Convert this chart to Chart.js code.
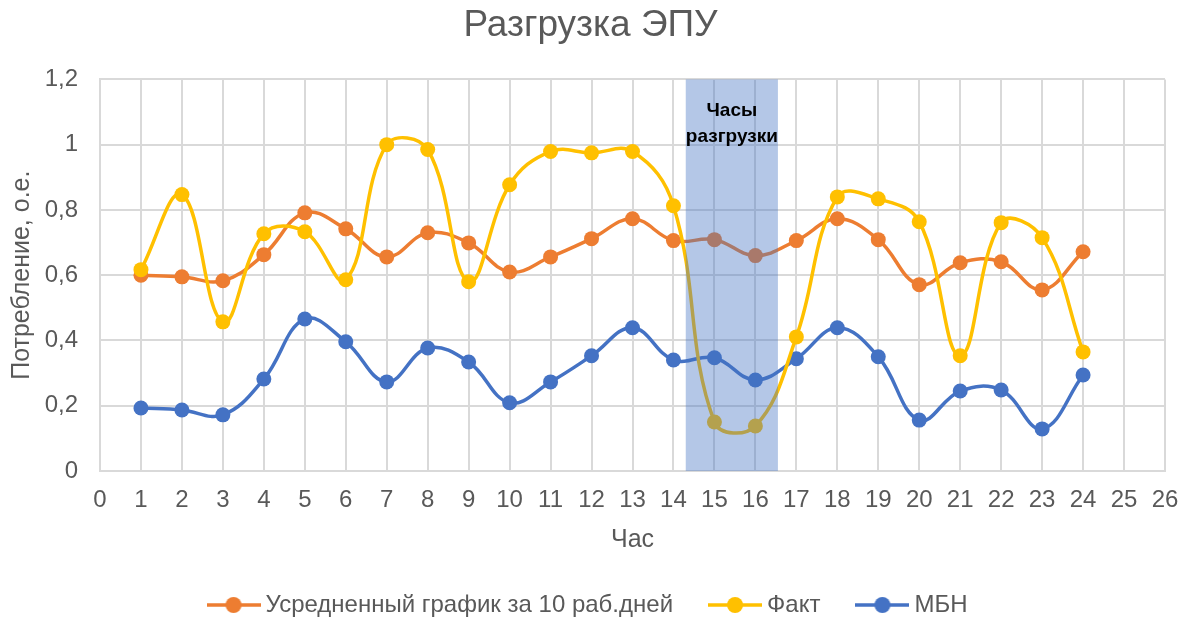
<!DOCTYPE html>
<html>
<head>
<meta charset="utf-8">
<script src="https://cdn.jsdelivr.net/npm/chart.js@4"></script>
<style>
  html, body { margin: 0; padding: 0; background: #fff; }
  #wrap { width: 1181px; height: 619px; }
</style>
</head>
<body>
<div id="wrap"><canvas id="chart"></canvas></div>
<script>
const hours = [1, 2, 3, 4, 5, 6, 7, 8, 9, 10, 11, 12, 13, 14, 15, 16, 17, 18, 19, 20, 21, 22, 23, 24];
const avgValues = [0.60, 0.595, 0.583, 0.663, 0.791, 0.742, 0.656, 0.730, 0.699, 0.610, 0.656, 0.712,
    0.773, 0.706, 0.709, 0.660, 0.706, 0.773, 0.709, 0.571, 0.638, 0.641, 0.555, 0.672];
const factValues = [0.617, 0.847, 0.457, 0.727, 0.733, 0.586, 1.0, 0.985, 0.580, 0.877, 0.979, 0.975,
    0.979, 0.813, 0.150, 0.138, 0.411, 0.840, 0.834, 0.764, 0.353, 0.761, 0.715, 0.365];
const mbnValues = [0.193, 0.187, 0.172, 0.282, 0.466, 0.396, 0.273, 0.377, 0.334, 0.209, 0.273, 0.353,
    0.439, 0.340, 0.347, 0.279, 0.344, 0.439, 0.350, 0.156, 0.245, 0.248, 0.129, 0.294];
const seriesNames = ['Усредненный график за 10 раб.дней', 'Факт', 'МБН'];
const peakStart = 14.3;
const peakEnd = 16.55;
const peakLabel = ['Часы', 'разгрузки'];

const grey = '#595959';
const font = 'Liberation Sans, Arial, sans-serif';

function pts(vals) {
    return hours.map((h, i) => ({ x: h, y: vals[i] }));
}

// marker for legend: line with a dot in the middle
function marker(color) {
    const c = document.createElement('canvas');
    c.width = 54; c.height = 18;
    const g = c.getContext('2d');
    g.strokeStyle = color; g.lineWidth = 3.5;
    g.beginPath(); g.moveTo(0, 9); g.lineTo(54, 9); g.stroke();
    g.fillStyle = color;
    g.beginPath(); g.arc(27, 9, 8, 0, Math.PI * 2); g.fill();
    return c;
}

function line(label, vals, color, order) {
    return {
        label: label,
        data: pts(vals),
        borderColor: color,
        backgroundColor: color,
        borderWidth: 3.5,
        pointRadius: 7.5,
        pointHoverRadius: 7.5,
        pointBorderWidth: 0,
        tension: 0.4,
        order: order
    };
}

// shaded "peak hours" band, drawn over the lines like in the original
const bandPlugin = {
    id: 'band',
    afterDatasetsDraw(chart) {
        const { ctx, chartArea, scales } = chart;
        const x1 = scales.x.getPixelForValue(peakStart);
        const x2 = scales.x.getPixelForValue(peakEnd);
        ctx.save();
        ctx.fillStyle = 'rgba(68,114,196,0.4)';
        ctx.fillRect(x1, chartArea.top, x2 - x1, chartArea.bottom - chartArea.top);
        ctx.fillStyle = '#000';
        ctx.font = 'bold 19px ' + font;
        ctx.textAlign = 'center';
        ctx.textBaseline = 'alphabetic';
        const cx = (x1 + x2) / 2;
        ctx.fillText(peakLabel[0], cx, chartArea.top + 37);
        ctx.fillText(peakLabel[1], cx, chartArea.top + 63);
        ctx.restore();
    }
};

new Chart(document.getElementById('chart'), {
    type: 'line',
    data: {
        datasets: [
            line(seriesNames[0], avgValues, '#ED7D31', 1),
            line(seriesNames[1], factValues, '#FFC000', 0),
            line(seriesNames[2], mbnValues, '#4472C4', 2)
        ]
    },
    plugins: [bandPlugin],
    options: {
        responsive: true,
        maintainAspectRatio: false,
        animation: false,
        layout: { padding: { left: 0, right: 0, top: 0, bottom: -8 } },
        plugins: {
            title: {
                display: true,
                text: 'Разгрузка ЭПУ',
                color: grey,
                font: { family: font, size: 37, weight: 'normal' },
                padding: { top: 4, bottom: 31 }
            },
            legend: {
                position: 'bottom',
                labels: {
                    color: grey,
                    font: { family: font, size: 24 },
                    usePointStyle: true,
                    pointStyleWidth: 40,
                    padding: 42,
                    generateLabels(chart) {
                        return chart.data.datasets.map((ds, i) => ({
                            text: ds.label,
                            fontColor: grey,
                            pointStyle: marker(ds.borderColor),
                            datasetIndex: i,
                            hidden: false,
                            lineWidth: 0
                        }));
                    }
                }
            },
            tooltip: { enabled: false }
        },
        scales: {
            x: {
                type: 'linear',
                min: 0,
                max: 26,
                ticks: { stepSize: 1, color: grey, font: { family: font, size: 24 }, padding: 15 },
                grid: { color: '#d9d9d9', lineWidth: 2, drawTicks: false },
                border: { color: '#d9d9d9', width: 2 },
                title: {
                    display: true, text: 'Час', color: grey,
                    font: { family: font, size: 25 },
                    padding: { top: 0, bottom: -4 }
                },
                afterFit(s) { s.height = 80; s.paddingRight = 16; s.paddingLeft = 0; }
            },
            y: {
                min: 0,
                max: 1.2,
                ticks: {
                    stepSize: 0.2, color: grey, font: { family: font, size: 24 }, padding: 22,
                    callback: v => String(Math.round(v * 10) / 10).replace('.', ',')
                },
                grid: { color: '#d9d9d9', lineWidth: 2, drawTicks: false },
                border: { color: '#d9d9d9', width: 2 },
                title: {
                    display: true, text: 'Потребление, о.е.', color: grey,
                    font: { family: font, size: 25 },
                    padding: { top: 7, bottom: 0 }
                },
                afterFit(s) { s.width = 100; }
            }
        }
    }
});
</script>
</body>
</html>
